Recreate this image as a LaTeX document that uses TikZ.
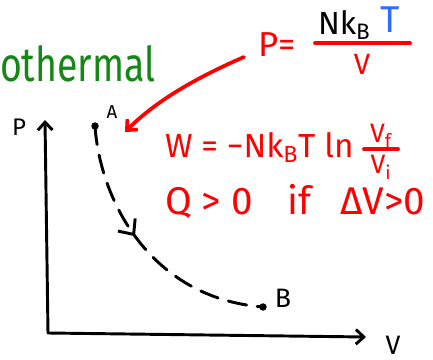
\documentclass[tikz,border=0pt]{standalone}
\usepackage{fontspec}
\setmainfont{Fira Sans}
\usetikzlibrary{arrows.meta,decorations.markings}
\definecolor{penred}{RGB}{255,0,0}
\definecolor{pengreen}{RGB}{20,135,20}
\definecolor{penblue}{RGB}{45,110,255}
\tikzset{
  ink/.style={line width=2.2pt, line cap=round, line join=round},
  redink/.style={line width=2.8pt, draw=penred, line cap=round, line join=round},
  barb/.style={-{Straight Barb[length=6pt,width=11pt]}},
  lbl/.style={inner sep=0pt, outer sep=0pt},
  redtext/.style={lbl, text=penred},
}
\begin{document}
\begin{tikzpicture}[x=0.75pt,y=-0.75pt]
\useasboundingbox (0,0) rectangle (433,360);

% title (cropped)
\node[lbl, text=pengreen, anchor=base west, font=\fontsize{36}{36}\selectfont] (title) at (0,82) {\scalebox{0.78}[1]{othermal}};

% axes
\coordinate (O) at (48,333);
\coordinate (Ptop) at (45,120);
\coordinate (Vend) at (366,337);
\draw[ink, barb] (O) -- (Ptop);
\draw[ink, barb] (O) -- (Vend);
\node[lbl, anchor=base, font=\fontsize{18}{18}\selectfont] (plab) at (19,136) {P};
\node[lbl, anchor=base, font=\fontsize{20}{20}\selectfont] (vlab) at (393,354) {V};

% states
\coordinate (A) at (95,126);
\coordinate (B) at (263,307);
\fill (A) circle[radius=2.8pt];
\fill (B) circle[radius=2.8pt];
\node[lbl, anchor=base, font=\fontsize{14}{14}\selectfont] (alab) at (112,119) {A};
\node[lbl, anchor=base, font=\fontsize{20}{20}\selectfont] (blab) at (283,308) {B};

% isotherm
\draw[ink, dash pattern=on 14pt off 8pt,
  postaction={decorate, decoration={markings,
    mark=at position 0.44 with {\arrow[solid, line width=2.2pt]{Straight Barb[length=9pt,width=16pt]}}}}]
  (A) .. controls (100,200) and (150,298) .. (B);

% P = N k_B T / V
\node[redtext, anchor=base west, font=\fontsize{26}{26}\selectfont] (peq) at (258,57) {P=};
\node[lbl, anchor=base west, font=\fontsize{24}{24}\selectfont] (nkb) at (318,35) {Nk\textsubscript{B}};
\node[lbl, text=penblue, anchor=base west, font=\fontsize{28}{28}\selectfont] (tT) at (380,33) {T};
\coordinate (f1a) at (315,43);
\coordinate (f1b) at (410,43);
\draw[redink] (f1a) -- (f1b);
\node[redtext, anchor=base, font=\fontsize{22}{22}\selectfont] (vden) at (362,75) {V};

% red arrow to A
\coordinate (rs) at (244,57);
\coordinate (rt) at (125,132);
\draw[redink, barb] (rs) .. controls (205,74) and (160,97) .. (rt);

% work
\node[redtext, anchor=base west, font=\fontsize{25}{25}\selectfont] (wq) at (165,158) {W = −Nk\textsubscript{B}T ln};
\node[redtext, anchor=base, font=\fontsize{20}{20}\selectfont] (vf) at (381,143) {V\textsubscript{f}};
\coordinate (f2a) at (364,149);
\coordinate (f2b) at (398,149);
\draw[redink] (f2a) -- (f2b);
\node[redtext, anchor=base, font=\fontsize{20}{20}\selectfont] (vi) at (381,174) {V\textsubscript{i}};

% heat
\node[redtext, anchor=base west, font=\fontsize{29}{29}\selectfont] (qq) at (165,215) {Q > 0\hspace{0.9em}if\hspace{0.75em}ΔV>0};
\end{tikzpicture}
\end{document}
